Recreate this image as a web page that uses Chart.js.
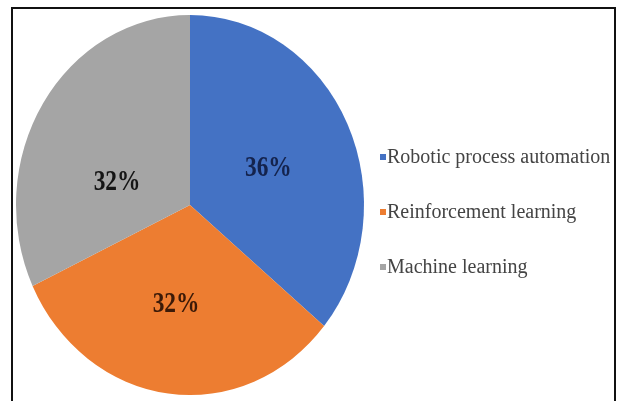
<!DOCTYPE html>
<html>
<head>
<meta charset="utf-8">
<script src="https://cdn.jsdelivr.net/npm/chart.js@4.4.1/dist/chart.umd.min.js"></script>
<style>
    html, body { margin: 0; padding: 0; background: #fff; }
    .wrap { position: relative; width: 619px; height: 401px; overflow: hidden; }
    .frame { position: absolute; left: 11px; top: 7px; width: 605px; height: 420px; border: 2px solid #111; box-sizing: border-box; }
    canvas { position: absolute; left: 0; top: 0; }
</style>
</head>
<body>
<div class="wrap">
    <canvas id="pie" width="619" height="401"></canvas>
    <div class="frame"></div>
</div>
<script>
const labels = ['Robotic process automation', 'Reinforcement learning', 'Machine learning'];
const shares = [36, 32, 32];
const colors = ['#4472c4', '#ed7d31', '#a5a5a5'];

// pie in the picture is a bit taller than wide
const stretchY = 1.092;

// label look + nudges (angle in degrees, fraction of radius)
const labelColors = ['#14234d', '#3b1a08', '#151515'];
const labelNudge = [{ da: 2, f: 0.49 }, { da: 1.5, f: 0.53 }, { da: -17, f: 0.435 }];

const stretchPie = {
    id: 'stretchPie',
    beforeDatasetsDraw(chart) {
        const arc = chart.getDatasetMeta(0).data[0];
        const { x, y } = arc.getProps(['x', 'y'], true);
        const ctx = chart.ctx;
        ctx.save();
        ctx.translate(x, y);
        ctx.scale(1, stretchY);
        ctx.translate(-x, -y);
    },
    afterDatasetsDraw(chart) {
        chart.ctx.restore();
    }
};

const pctLabels = {
    id: 'pctLabels',
    afterDatasetsDraw(chart) {
        const ctx = chart.ctx;
        const data = chart.data.datasets[0].data;
        const total = data.reduce((a, b) => a + b, 0);
        chart.getDatasetMeta(0).data.forEach((arc, i) => {
            const p = arc.getProps(['x', 'y', 'startAngle', 'endAngle', 'outerRadius'], true);
            const mid = (p.startAngle + p.endAngle) / 2 + labelNudge[i].da * Math.PI / 180;
            const r = p.outerRadius * labelNudge[i].f;
            const lx = p.x + Math.cos(mid) * r;
            const ly = p.y + Math.sin(mid) * r * stretchY;
            ctx.save();
            // the original digits look tall and narrow
            ctx.translate(lx, ly);
            ctx.scale(0.9, 1.1);
            ctx.font = 'bold 26px "Liberation Serif", serif';
            ctx.fillStyle = labelColors[i];
            ctx.textAlign = 'center';
            ctx.textBaseline = 'middle';
            ctx.fillText(Math.round(data[i] / total * 100) + '%', 0, 0);
            ctx.restore();
        });
    }
};

// legend on the right, square markers like the original
const sideLegend = {
    id: 'sideLegend',
    afterDraw(chart) {
        const ctx = chart.ctx;
        const x0 = 380;
        const rows = [157, 212, 267];
        ctx.save();
        ctx.font = '20px "Liberation Serif", serif';
        ctx.textBaseline = 'middle';
        chart.data.labels.forEach((name, i) => {
            ctx.fillStyle = chart.data.datasets[0].backgroundColor[i];
            ctx.fillRect(x0, rows[i] - 3, 6, 6);
            ctx.fillStyle = '#444';
            ctx.fillText(name, x0 + 7, rows[i] + 1);
        });
        ctx.restore();
    }
};

new Chart(document.getElementById('pie'), {
    type: 'pie',
    data: {
        labels: labels,
        datasets: [{
            data: shares,
            backgroundColor: colors,
            borderWidth: 0
        }]
    },
    options: {
        responsive: false,
        animation: false,
        layout: { padding: { left: 16, right: 255, top: 31, bottom: 22 } },
        plugins: {
            legend: { display: false },
            tooltip: { enabled: false }
        }
    },
    plugins: [stretchPie, pctLabels, sideLegend]
});
</script>
</body>
</html>
